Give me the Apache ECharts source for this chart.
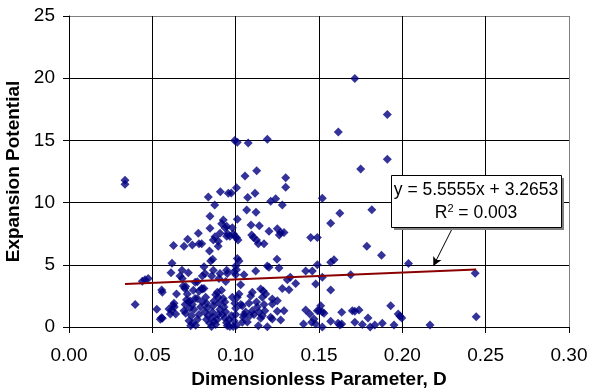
<!DOCTYPE html>
<html><head><meta charset="utf-8">
<script src="https://cdn.jsdelivr.net/npm/echarts@6/dist/echarts.min.js"></script>
<style>html,body{margin:0;padding:0;background:#fff}#c{width:589px;height:391px}</style>
</head><body><div id="c"></div>
<script>
// Scatter data: Dimensionless Parameter D (x) vs Expansion Potential (y)
var dX = [
0.0336,0.0336,0.0397,0.0440,0.0456,0.0475,0.0527,0.0548,0.0560,0.0555,0.0556,0.0560,0.0600,0.0608,0.0625,0.0632,0.0616,0.0640,0.0618,0.0612,
0.0627,0.0645,0.0630,0.0690,0.0712,0.0678,0.0666,0.0680,0.0716,0.0685,0.0695,0.0700,0.0710,0.0705,0.0720,0.0690,0.0700,0.0697,0.0725,0.0740,
0.0776,0.0780,0.0796,0.0757,0.0770,0.0796,0.0746,0.0780,0.0800,0.0810,0.0756,0.0770,0.0726,0.0740,0.0750,0.0735,0.0720,0.0740,0.0730,0.0760,
0.0770,0.0780,0.0790,0.0800,0.0810,0.0816,0.0800,0.0836,0.0846,0.0846,0.0843,0.0862,0.0850,0.0866,0.0856,0.0820,0.0825,0.0830,0.0815,0.0835,
0.0825,0.0845,0.0855,0.0860,0.0865,0.0870,0.0862,0.0870,0.0880,0.0880,0.0890,0.0895,0.0900,0.0905,0.0895,0.0890,0.0874,0.0876,0.0866,0.0896,
0.0895,0.0906,0.0908,0.0926,0.0916,0.0946,0.0937,0.0946,0.0951,0.0965,0.0906,0.0946,0.0900,0.0940,0.0950,0.0915,0.0925,0.0935,0.0930,0.0940,
0.0920,0.0935,0.0945,0.0950,0.0965,0.0960,0.0975,0.0956,0.0974,0.0980,0.0986,0.0994,0.1005,0.1014,0.1005,0.1010,0.0994,0.1010,0.1010,0.1020,
0.1000,0.0990,0.1005,0.1000,0.1030,0.0980,0.1010,0.1020,0.0995,0.1000,0.1000,0.0990,0.1005,0.0985,0.1030,0.1040,0.1050,0.1060,0.1046,0.1040,
0.1050,0.1056,0.1066,0.1072,0.1075,0.1092,0.1107,0.1096,0.1125,0.1136,0.1122,0.1116,0.1126,0.1142,0.1120,0.1100,0.1090,0.1100,0.1110,0.1080,
0.1125,0.1130,0.1140,0.1150,0.1136,0.1150,0.1166,0.1180,0.1160,0.1170,0.1175,0.1160,0.1170,0.1190,0.1200,0.1190,0.1200,0.1190,0.1210,0.1220,
0.1220,0.1220,0.1210,0.1240,0.1248,0.1260,0.1250,0.1270,0.1262,0.1290,0.1280,0.1300,0.1300,0.1250,0.1250,0.1290,0.1270,0.1280,0.1310,0.1328,
0.1320,0.1360,0.1420,0.1460,0.1450,0.1490,0.1520,0.1570,0.1625,0.1570,0.1590,0.1490,0.1480,0.1520,0.1570,0.1616,0.1715,0.1750,0.1910,0.1910,
0.1817,0.1787,0.1875,0.1690,0.2037,0.2437,0.2443,0.2166,0.1930,0.1975,0.1986,0.1997,0.1950,0.1880,0.1835,0.1807,0.1794,0.1760,0.1715,0.1700,
0.1715,0.1740,0.1636,0.1625,0.1636,0.1614,0.1570,0.1520,0.1510,0.1500,0.1520,0.1530,0.1490,0.1470,0.1456,0.1480,0.1420,0.1445,0.1407,0.1070,
0.1085
];
var dY = [
11.79,11.47,1.80,3.68,3.80,3.89,1.42,0.62,0.70,0.75,2.98,2.80,1.45,1.05,1.75,1.60,1.35,1.05,5.13,4.36,
6.55,2.66,1.90,6.50,7.05,4.56,4.10,3.90,4.36,3.30,3.10,3.25,2.66,2.20,2.00,1.30,1.10,1.80,1.50,6.59,
7.53,6.70,6.70,3.60,3.64,3.10,2.95,2.87,3.06,3.10,2.30,2.30,2.10,1.80,1.40,0.90,0.50,0.30,0.10,0.15,
0.60,1.00,1.60,2.00,4.85,4.30,4.10,10.45,8.90,7.93,6.10,5.44,5.30,4.56,4.10,2.40,1.90,1.55,1.20,0.90,
0.60,0.30,0.05,1.20,1.70,2.10,0.80,0.45,0.20,2.60,2.80,2.40,1.90,1.40,1.00,0.60,9.80,7.25,7.00,6.90,
6.50,7.53,10.88,8.60,8.30,8.10,7.95,7.30,7.50,7.30,4.30,4.56,3.90,3.65,4.30,2.95,2.30,2.00,1.60,1.20,
1.00,0.70,0.35,0.10,0.05,0.60,0.90,10.75,10.77,7.97,7.50,7.30,7.20,7.00,11.20,8.66,15.00,14.85,5.50,5.30,
4.90,4.45,4.60,4.20,3.40,2.40,2.40,2.66,1.90,1.50,1.00,0.50,0.15,0.05,1.80,1.70,1.00,1.20,0.78,0.38,
4.20,12.14,9.40,10.42,14.80,8.20,7.20,7.40,7.00,6.70,9.22,10.75,12.57,8.14,4.50,2.80,2.50,1.30,1.00,1.90,
2.00,1.60,1.20,0.70,0.10,3.06,2.90,2.66,2.40,1.80,1.30,0.90,6.70,15.10,7.70,4.90,4.80,0.03,0.78,0.65,
2.25,1.85,10.10,10.30,5.45,4.75,7.90,7.60,7.40,7.60,9.80,12.00,11.23,2.12,1.26,1.30,0.56,3.10,3.80,4.00,
3.00,3.50,4.50,4.50,7.20,7.20,10.35,8.35,9.15,5.20,5.40,5.00,3.46,4.00,2.98,15.68,19.98,12.70,17.08,13.48,
9.43,6.50,5.77,4.20,5.10,4.32,0.83,0.16,1.70,1.05,0.86,0.73,0.16,0.30,0.16,0.00,0.73,0.20,0.38,1.30,
1.26,1.37,1.18,0.16,0.24,0.30,0.46,0.00,1.70,1.30,1.20,1.10,1.30,0.65,0.38,0.24,1.37,1.05,0.24,0.40,
0.90
];
// Linear trendline endpoints
var trendX = [0.0336, 0.2443];
var trendY = [3.45, 4.62];
// Callout texts
var eqText = 'y = 5.5555x + 3.2653';
var r2Text = '{n|R}{s|2}{n| = 0.003}';
// Arrow endpoints in data units
var arrowX = [0.2304, 0.2186];
var arrowY = [8.04, 4.90];

var pts = dX.map(function (x, i) { return [x, dY[i]]; });
var trend = trendX.map(function (x, i) { return [x, trendY[i]]; });

var chart = echarts.init(document.getElementById('c'), null, {renderer: 'canvas'});
var F = 'Arial, "Liberation Sans", sans-serif';
chart.setOption({
  animation: false,
  backgroundColor: '#fff',
  grid: {left: 69, right: 20, top: 16, bottom: 64, show: false, containLabel: false, outerBoundsMode: 'none'},
  xAxis: {
    type: 'value', min: 0, max: 0.3, interval: 0.05,
    name: 'Dimensionless Parameter, D', nameLocation: 'middle', nameGap: 43,
    nameTextStyle: {fontFamily: F, fontSize: 19, fontWeight: 'bold', color: '#000'},
    axisLine: {show: true, onZero: false, lineStyle: {color: '#000', width: 1}},
    axisTick: {show: true, inside: false, length: 6, lineStyle: {color: '#000'}},
    axisLabel: {fontFamily: F, fontSize: 19, color: '#000', margin: 19,
      formatter: function (v) { return v.toFixed(2); }},
    splitLine: {show: true, lineStyle: {color: ['#000','#000','#000','#000','#000','#000','#808080'], width: 1}}
  },
  yAxis: {
    type: 'value', min: 0, max: 25, interval: 5,
    name: 'Expansion Potential', nameLocation: 'middle', nameGap: 45,
    nameTextStyle: {fontFamily: F, fontSize: 19, fontWeight: 'bold', color: '#000'},
    axisLine: {show: true, onZero: false, lineStyle: {color: '#000', width: 1}},
    axisTick: {show: true, inside: false, length: 6, lineStyle: {color: '#000'}},
    axisLabel: {fontFamily: F, fontSize: 19, color: '#000', margin: 14},
    splitLine: {show: true, lineStyle: {color: ['#000','#000','#000','#000','#000','#808080'], width: 1}}
  },
  series: [
    {
      type: 'scatter', data: pts, symbol: 'diamond', symbolSize: 9,
      itemStyle: {color: '#000080'}, z: 2
    },
    {
      type: 'line', data: trend, symbol: 'none', z: 3,
      lineStyle: {color: '#8B0000', width: 2},
      markLine: {
        silent: true, symbol: ['none', 'arrow'], symbolSize: [7, 9],
        label: {show: false},
        lineStyle: {color: '#000', width: 1, type: 'solid'},
        data: [[{coord: [arrowX[0], arrowY[0]]}, {coord: [arrowX[1], arrowY[1]]}]]
      }
    }
  ],
  graphic: [
    {type: 'rect', left: 394, top: 178, shape: {width: 170, height: 52}, style: {fill: '#808080'}, z: 10},
    {type: 'rect', left: 391, top: 175, shape: {width: 170, height: 52}, style: {fill: '#fff', stroke: '#000', lineWidth: 1}, z: 11},
    {type: 'text', x: 476, y: 190, z: 12, style: {text: eqText, fontFamily: F, fontSize: 17.5, fill: '#000', align: 'center', verticalAlign: 'middle'}},
    {type: 'text', x: 476, y: 213, z: 12, style: {text: r2Text, fontFamily: F, fontSize: 17.5, fill: '#000', align: 'center', verticalAlign: 'middle',
      rich: {n: {fontFamily: F, fontSize: 17.5, fill: '#000'}, s: {fontFamily: F, fontSize: 11, fill: '#000', padding: [0, 0, 9, 0]}}}}
  ]
});
</script></body></html>
